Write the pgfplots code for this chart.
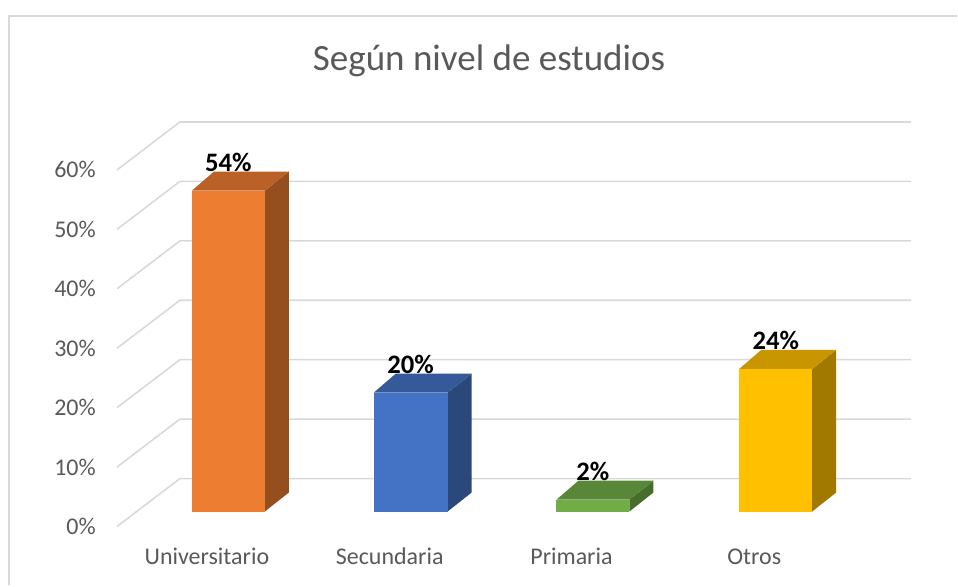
\documentclass[border=0pt]{standalone}
\usepackage{fontspec}
\setmainfont{Carlito}
\usepackage{pgfplots}
\pgfplotsset{compat=1.18}
\definecolor{cOr}{RGB}{237,125,49}
\definecolor{cBl}{RGB}{68,114,196}
\definecolor{cGr}{RGB}{112,173,71}
\definecolor{cGo}{RGB}{255,192,0}
\definecolor{gridc}{RGB}{217,217,217}
\definecolor{txt}{RGB}{89,89,89}
\begin{document}
\begin{tikzpicture}
\begin{axis}[
  scale only axis, width=718.5pt, height=439.5pt,
  xmin=0, xmax=958, ymin=-12.437, ymax=86.05,
  clip=false,
  /pgf/number format/assume math mode=true,
  axis line style={draw=none},
  major tick length=0pt,
  xtick={207,390,572,755},
  xticklabels={Universitario,Secundaria,Primaria,Otros},
  xticklabel style={anchor=base, yshift=15.75pt, text=txt, font=\fontsize{18}{20}\selectfont},
  ytick={-2.52,7.48,17.48,27.48,37.48,47.48,57.48},
  yticklabels={0\%,10\%,20\%,30\%,40\%,50\%,60\%},
  yticklabel style={anchor=east, inner sep=0pt, xshift=72pt, text=txt, font=\fontsize{18}{20}\selectfont},
]
% chart border
\draw[gridc, line width=1.5pt] (axis cs:9,-12.437) -- (axis cs:9,83.36) -- (axis cs:958,83.36);
% gridlines (front-left diagonal, back wall)
\foreach \v in {0,10,20,30,40,50,60}{
  \pgfmathsetmacro{\a}{\v-2.52}
  \pgfmathsetmacro{\b}{\v+5.55}
  \edef\tmp{\noexpand\addplot[gridc, line width=1.2pt] coordinates {(117,\a) (180,\b) (912,\b)};}
  \tmp
}
% Universitario
\addplot[fill=cOr!63!black, draw=none] coordinates {(265,0) (289,3.19) (289,57.19) (265,54)} -- cycle;
\addplot[fill=cOr!78!black, draw=none] coordinates {(192,54) (265,54) (289,57.19) (214,57.19)} -- cycle;
% Secundaria
\addplot[fill=cBl!63!black, draw=none] coordinates {(448,0) (472,3.19) (472,23.19) (448,20)} -- cycle;
\addplot[fill=cBl!78!black, draw=none] coordinates {(374,20) (448,20) (472,23.19) (396,23.19)} -- cycle;
% Primaria
\addplot[fill=cGr!63!black, draw=none] coordinates {(630,0) (654,3.19) (654,5.19) (630,2)} -- cycle;
\addplot[fill=cGr!78!black, draw=none] coordinates {(557,2) (630,2) (654,5.19) (579,5.19)} -- cycle;
% Otros
\addplot[fill=cGo!63!black, draw=none] coordinates {(813,0) (837,3.19) (837,27.19) (813,24)} -- cycle;
\addplot[fill=cGo!78!black, draw=none] coordinates {(740,24) (813,24) (837,27.19) (762,27.19)} -- cycle;
% front faces with labels
\pgfplotsset{lbl/.style={nodes near coords={\pgfmathprintnumber{\pgfplotspointmeta}\%},
  every node near coord/.append style={anchor=base, inner sep=0pt, yshift=14.25pt, text=black, font=\bfseries\fontsize{20}{22}\selectfont}}}
\addplot[ybar, bar shift=0pt, bar width=54.75pt, fill=cOr, draw=none, lbl] coordinates {(228.5,54)};
\addplot[ybar, bar shift=0pt, bar width=55.5pt, fill=cBl, draw=none, lbl] coordinates {(411,20)};
\addplot[ybar, bar shift=0pt, bar width=54.75pt, fill=cGr, draw=none, lbl] coordinates {(593.5,2)};
\addplot[ybar, bar shift=0pt, bar width=54.75pt, fill=cGo, draw=none, lbl] coordinates {(776.5,24)};
% title
\node[anchor=base, text=txt, font=\fontsize{27.8}{30}\selectfont] at (axis cs:489.5,74.29) {Según nivel de estudios};
\end{axis}
\end{tikzpicture}
\end{document}
